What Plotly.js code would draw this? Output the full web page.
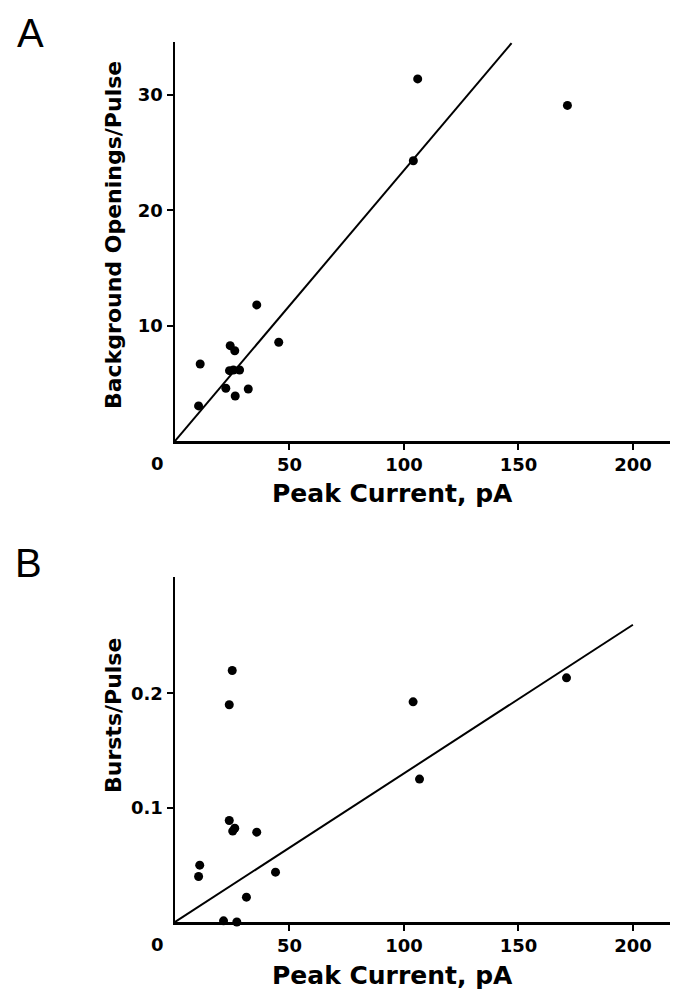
<!DOCTYPE html>
<html>
<head>
<meta charset="utf-8">
<script src="https://cdn.plot.ly/plotly-3.0.1.min.js"></script>
<style>html,body{margin:0;padding:0;background:#fff;}#chart{width:673px;height:995px;}</style>
</head>
<body>
<div id="chart"></div>
<script>
// Panel A: Peak current (pA) vs background openings per pulse
const peakA = [106.0, 171.4, 104.1, 35.7, 45.3, 24.1, 26.1, 11.0, 23.8, 25.5, 28.2, 22.2, 32.0, 26.3, 10.3];
const openingsA = [31.4, 29.1, 24.3, 11.8, 8.56, 8.27, 7.83, 6.68, 6.1, 6.16, 6.16, 4.57, 4.51, 3.9, 3.04];
const fitA_x = [0, 147];
const fitA_y = [0, 34.5];

// Panel B: Peak current (pA) vs bursts per pulse
const peakB = [25.0, 23.7, 104.0, 171.0, 106.8, 23.7, 26.1, 25.2, 35.7, 10.8, 10.3, 43.9, 31.2, 21.2, 27.0];
const burstsB = [0.220, 0.190, 0.1926, 0.2136, 0.125, 0.0888, 0.082, 0.0795, 0.0786, 0.0497, 0.0398, 0.0436, 0.0217, 0.001, 0.0];
const fitB_x = [0, 200];
const fitB_y = [0, 0.26];

const xTicks = [50, 100, 150, 200];
const yTicksA = [10, 20, 30];
const yTicksB = [0.1, 0.2];
const yTickTextB = ["0.1", "0.2"];

const W = 673, H = 995;
const px = v => v / W;
const py = v => 1 - v / H;

const tickFont = {family: "DejaVu Sans", size: 18, color: "#000", weight: "bold"};
const titleFont = {family: "DejaVu Sans", size: 22, color: "#000", weight: "bold"};
const xTitleFont = {family: "DejaVu Sans", size: 25, color: "#000", weight: "bold"};
const letterFont = {family: "Liberation Sans", size: 40, color: "#000"};

const traces = [
  {x: fitA_x, y: fitA_y, xaxis: "x", yaxis: "y", mode: "lines", line: {color: "#000", width: 2}, hoverinfo: "skip"},
  {x: peakA, y: openingsA, xaxis: "x", yaxis: "y", mode: "markers", marker: {color: "#000", size: 9}, cliponaxis: false},
  {x: fitB_x, y: fitB_y, xaxis: "x2", yaxis: "y2", mode: "lines", line: {color: "#000", width: 2}, hoverinfo: "skip"},
  {x: peakB, y: burstsB, xaxis: "x2", yaxis: "y2", mode: "markers", marker: {color: "#000", size: 9}, cliponaxis: false}
];

const axBase = {
  showline: true, linecolor: "#000", linewidth: 2.5, showgrid: false, zeroline: false,
  ticks: "outside", ticklen: 6, tickwidth: 2, tickcolor: "#000", tickfont: tickFont,
  fixedrange: true
};

const layout = {
  width: W, height: H,
  margin: {l: 0, r: 0, t: 0, b: 0},
  paper_bgcolor: "#fff", plot_bgcolor: "#fff",
  showlegend: false,
  xaxis: Object.assign({}, axBase, {domain: [px(175), px(670)], range: [0, 216.2], tickmode: "array", tickvals: xTicks, anchor: "y"}),
  yaxis: Object.assign({}, axBase, {domain: [py(441), py(42)], range: [0, 34.6], tickmode: "array", tickvals: yTicksA, anchor: "x"}),
  xaxis2: Object.assign({}, axBase, {domain: [px(175), px(670)], range: [0, 216.2], tickmode: "array", tickvals: xTicks, anchor: "y2"}),
  yaxis2: Object.assign({}, axBase, {domain: [py(922), py(577)], range: [0, 0.3018], tickmode: "array", tickvals: yTicksB, ticktext: yTickTextB, anchor: "x2"}),
  annotations: [
    {text: "A", xref: "paper", yref: "paper", x: px(30), y: py(33), showarrow: false, font: letterFont, xanchor: "center", yanchor: "middle"},
    {text: "B", xref: "paper", yref: "paper", x: px(28), y: py(563), showarrow: false, font: letterFont, xanchor: "center", yanchor: "middle"},
    {text: "0", xref: "paper", yref: "paper", x: px(157), y: py(463), showarrow: false, font: tickFont, xanchor: "center", yanchor: "middle"},
    {text: "0", xref: "paper", yref: "paper", x: px(157), y: py(944), showarrow: false, font: tickFont, xanchor: "center", yanchor: "middle"},
    {text: "Background Openings/Pulse", xref: "paper", yref: "paper", x: px(113), y: py(235), showarrow: false, textangle: -90, font: titleFont, xanchor: "center", yanchor: "middle"},
    {text: "Bursts/Pulse", xref: "paper", yref: "paper", x: px(113), y: py(715), showarrow: false, textangle: -90, font: titleFont, xanchor: "center", yanchor: "middle"},
    {text: "Peak Current, pA", xref: "paper", yref: "paper", x: px(392), y: py(493), showarrow: false, font: xTitleFont, xanchor: "center", yanchor: "middle"},
    {text: "Peak Current, pA", xref: "paper", yref: "paper", x: px(392), y: py(975), showarrow: false, font: xTitleFont, xanchor: "center", yanchor: "middle"}
  ]
};

Plotly.newPlot("chart", traces, layout, {displayModeBar: false, staticPlot: true});
</script>
</body>
</html>
